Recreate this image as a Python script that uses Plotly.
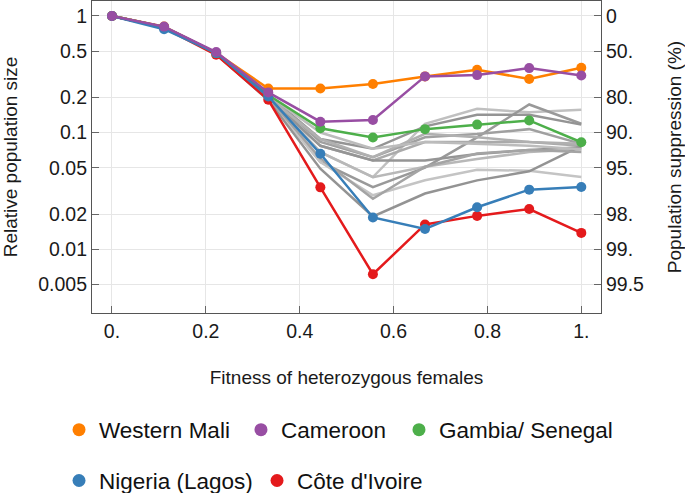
import plotly.graph_objects as go

# fitness of heterozygous females (x) and relative population size (y)
fitness = [0, 0.111, 0.222, 0.333, 0.444, 0.556, 0.667, 0.778, 0.889, 1]

western_mali = [1, 0.81, 0.48, 0.239, 0.239, 0.261, 0.303, 0.345, 0.288, 0.359]
cameroon = [1, 0.81, 0.49, 0.221, 0.124, 0.128, 0.303, 0.311, 0.357, 0.309]
gambia_senegal = [1, 0.8, 0.48, 0.21, 0.109, 0.0906, 0.107, 0.117, 0.127, 0.0826]
nigeria_lagos = [1, 0.77, 0.48, 0.204, 0.0658, 0.0187, 0.0149, 0.0229, 0.0324, 0.0341]
cote_divoire = [1, 0.79, 0.464, 0.191, 0.0339, 0.0061, 0.0163, 0.0193, 0.0221, 0.0138]

# other sites, drawn in gray
other_sites = [
    [1, 0.8, 0.48, 0.205, 0.068, 0.0415, 0.119, 0.160, 0.149, 0.157],
    [1, 0.8, 0.48, 0.2, 0.056, 0.0341, 0.050, 0.091, 0.174, 0.119],
    [1, 0.8, 0.48, 0.21, 0.088, 0.0726, 0.113, 0.142, 0.142, 0.117],
    [1, 0.8, 0.48, 0.21, 0.083, 0.0615, 0.091, 0.097, 0.107, 0.080],
    [1, 0.8, 0.48, 0.2, 0.077, 0.0577, 0.083, 0.083, 0.083, 0.077],
    [1, 0.8, 0.48, 0.2, 0.077, 0.0577, 0.0577, 0.0656, 0.071, 0.075],
    [1, 0.8, 0.48, 0.2, 0.068, 0.0415, 0.051, 0.0594, 0.068, 0.072],
    [1, 0.8, 0.47, 0.19, 0.056, 0.029, 0.039, 0.048, 0.047, 0.0415],
    [1, 0.8, 0.47, 0.19, 0.049, 0.0191, 0.030, 0.0389, 0.0465, 0.077],
    [1, 0.8, 0.48, 0.2, 0.088, 0.0615, 0.0975, 0.091, 0.083, 0.080],
    [1, 0.8, 0.48, 0.21, 0.1, 0.0726, 0.083, 0.080, 0.077, 0.072],
    [1, 0.8, 0.47, 0.2, 0.06, 0.0271, 0.051, 0.066, 0.071, 0.068],
]
gray_shades = ['#c0c0c0', '#999999', '#949494', '#a0a0a0', '#aaaaaa', '#959595',
               '#b8b8b8', '#c4c4c4', '#939393', '#b0b0b0', '#bcbcbc', '#a4a4a4']

x_ticks = [0, 0.2, 0.4, 0.6, 0.8, 1]
x_ticktext = ['0.', '0.2', '0.4', '0.6', '0.8', '1.']
y_ticks = [1, 0.5, 0.2, 0.1, 0.05, 0.02, 0.01, 0.005]
y_ticktext = ['1', '0.5', '0.2', '0.1', '0.05', '0.02', '0.01', '0.005']
suppression_text = ['0', '50.', '80.', '90.', '95.', '98.', '99.', '99.5']

# drawing order (bottom to top) and which legend box each one goes in
sites = [
    ("Côte d'Ivoire", cote_divoire, '#e41a1c', 'legend5'),
    ('Western Mali', western_mali, '#ff7f00', 'legend'),
    ('Gambia/ Senegal', gambia_senegal, '#4daf4a', 'legend3'),
    ('Nigeria (Lagos)', nigeria_lagos, '#377eb8', 'legend4'),
    ('Cameroon', cameroon, '#984ea3', 'legend2'),
]
# legend box anchors (paper coords): two rows below the plot
legend_pos = {
    'legend': (-0.0648, -0.375),
    'legend2': (0.2927, -0.375),
    'legend3': (0.6031, -0.375),
    'legend4': (-0.0648, -0.538),
    'legend5': (0.3242, -0.538),
}

font = 'Liberation Sans, Arial, sans-serif'

fig = go.Figure()

for vals, shade in zip(other_sites, gray_shades):
    fig.add_trace(go.Scatter(
        x=fitness, y=vals, mode='lines',
        line=dict(color=shade, width=2.5),
        showlegend=False, hoverinfo='skip'
    ))

for name, vals, col, leg in sites:
    fig.add_trace(go.Scatter(
        x=fitness, y=vals, name=name, mode='lines+markers',
        line=dict(color=col, width=2.5),
        marker=dict(color=col, size=10),
        showlegend=False, yaxis='y2'
    ))
    # dot-only legend entry
    fig.add_trace(go.Scatter(
        x=[None], y=[None], name=name, mode='markers',
        marker=dict(color=col, size=13),
        legend=leg, yaxis='y2'
    ))

axis_common = dict(
    showline=True, linecolor='#555555', linewidth=1.2,
    ticks='inside', ticklen=7, tickcolor='#666666',
    gridcolor='#e6e6e6', gridwidth=1,
    zeroline=False,
    tickfont=dict(family=font, size=19.5, color='#1a1a1a'),
)

legends = {}
for key, (lx, ly) in legend_pos.items():
    legends[key] = dict(
        orientation='h', x=lx, xanchor='left', y=ly, yanchor='middle',
        font=dict(family=font, size=22.5, color='#111111'),
        bgcolor='rgba(0,0,0,0)'
    )

fig.update_layout(
    width=685, height=493,
    paper_bgcolor='white', plot_bgcolor='white',
    margin=dict(l=92, r=84, t=1, b=180, autoexpand=False),
    font=dict(family=font, color='#1a1a1a'),
    xaxis=dict(
        range=[-0.0426, 1.042],
        tickvals=x_ticks, ticktext=x_ticktext,
        mirror=True, showgrid=True,
        title=dict(text='Fitness of heterozygous females', font=dict(size=19), standoff=30),
        **axis_common
    ),
    yaxis=dict(
        type='log', range=[-2.547, 0.128],
        tickvals=y_ticks, ticktext=y_ticktext, showgrid=True,
        title=dict(text='Relative population size', font=dict(size=19), standoff=20),
        **axis_common
    ),
    yaxis2=dict(
        type='log', range=[-2.547, 0.128],
        overlaying='y', side='right', anchor='x',
        tickvals=y_ticks, ticktext=suppression_text, showgrid=False,
        title=dict(text='Population suppression (%)', font=dict(size=19), standoff=28),
        **axis_common
    ),
    **legends
)

# drop the default page margin so the figure sits at the window corner
fig.write_html("out.html", config={'displayModeBar': False},
               post_script="document.body.style.margin='0';")
